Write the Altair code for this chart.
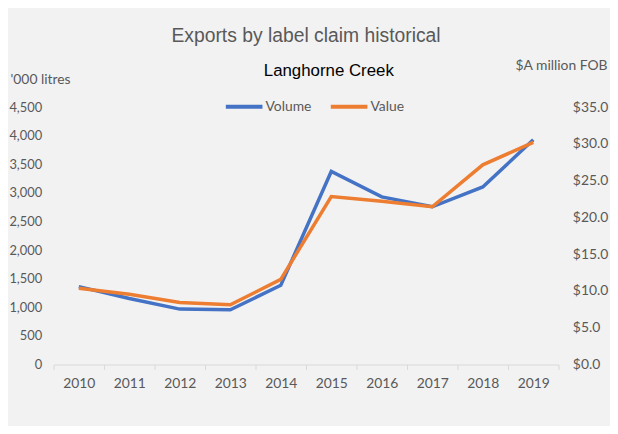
import altair as alt
import pandas as pd

years = ["2010", "2011", "2012", "2013", "2014", "2015", "2016", "2017", "2018", "2019"]
volume = [1362, 1154, 969, 957, 1385, 3375, 2930, 2757, 3104, 3929]
value = [10.37, 9.56, 8.44, 8.12, 11.58, 22.84, 22.20, 21.45, 27.15, 30.20]
series_names = ["Volume", "Value"]
series_colors = ["#4472C4", "#ED7D31"]
left_ticks = [0, 500, 1000, 1500, 2000, 2500, 3000, 3500, 4000, 4500]
right_ticks = [0, 5, 10, 15, 20, 25, 30, 35]
subtitle = ["Langhorne Creek"]

df = pd.DataFrame({"year": years, "volume": volume, "value": value})

FONT = "Lato"
GREY = "#595959"

x_enc = alt.X(
    "year:O",
    title=None,
    scale=alt.Scale(type="band", paddingInner=0, paddingOuter=0),
    axis=alt.Axis(
        labelAngle=0, tickBand="extent", domainColor="#D9D9D9", tickColor="#D9D9D9",
        tickSize=5, labelPadding=7, labelFont=FONT, labelFontSize=14, labelColor=GREY,
        grid=False,
    ),
)

color_enc = alt.Color(
    "series:N",
    scale=alt.Scale(domain=series_names, range=series_colors),
    legend=alt.Legend(
        title=None, orient="none", direction="horizontal", legendX=172, legendY=-21,
        symbolType="stroke", symbolSize=1369, symbolStrokeWidth=4,
        labelFont=FONT, labelFontSize=14, labelColor=GREY, columnPadding=11, labelOffset=1,
    ),
)

base = alt.Chart(df)

vol = base.transform_calculate(series="'Volume'").mark_line(strokeWidth=3.5).encode(
    x=x_enc,
    y=alt.Y(
        "volume:Q",
        scale=alt.Scale(domain=[0, 4500], nice=False, zero=True),
        axis=alt.Axis(
            values=left_ticks, format=",.0f", title="'000 litres", titleAngle=0,
            titleAlign="left", titleBaseline="middle", titleX=-44, titleY=-28,
            titleFont=FONT, titleFontSize=14, titleFontWeight="normal", titleColor=GREY,
            grid=False, domain=False, ticks=False, labelPadding=12,
            labelFont=FONT, labelFontSize=13, labelColor=GREY,
        ),
    ),
    color=color_enc,
)

val = base.transform_calculate(series="'Value'").mark_line(strokeWidth=3.5).encode(
    x=x_enc,
    y=alt.Y(
        "value:Q",
        scale=alt.Scale(domain=[0, 35], nice=False, zero=True),
        axis=alt.Axis(
            orient="right", values=right_ticks, format="$.1f", title="$A million FOB",
            titleAngle=0, titleAlign="right", titleBaseline="middle", titleX=49, titleY=-42,
            titleFont=FONT, titleFontSize=14, titleFontWeight="normal", titleColor=GREY,
            grid=False, domain=False, ticks=False, labelPadding=14,
            labelFont=FONT, labelFontSize=14, labelColor=GREY,
        ),
    ),
    color=color_enc,
)

txt = alt.Chart(pd.DataFrame({"t": subtitle})).mark_text(
    font="Liberation Sans", fontSize=17, color="#000000", baseline="middle", align="center"
).encode(text="t:N", x=alt.value(278), y=alt.value(-36))

chart = (
    alt.layer(vol, val, txt)
    .resolve_scale(y="independent")
    .properties(
        width=510,
        height=260,
        background="#F2F2F2",
        autosize=alt.AutoSizeParams(type="none"),
        padding={"left": 46, "top": 98, "right": 52, "bottom": 60},
        title=alt.Title(
            "Exports by label claim historical", font="Liberation Sans", fontSize=19.5,
            color=GREY, fontWeight="normal", anchor="middle", offset=12,
        ),
    )
    .configure_view(stroke=None)
)

chart.save("out.html", embed_options={"renderer": "svg", "actions": False})
